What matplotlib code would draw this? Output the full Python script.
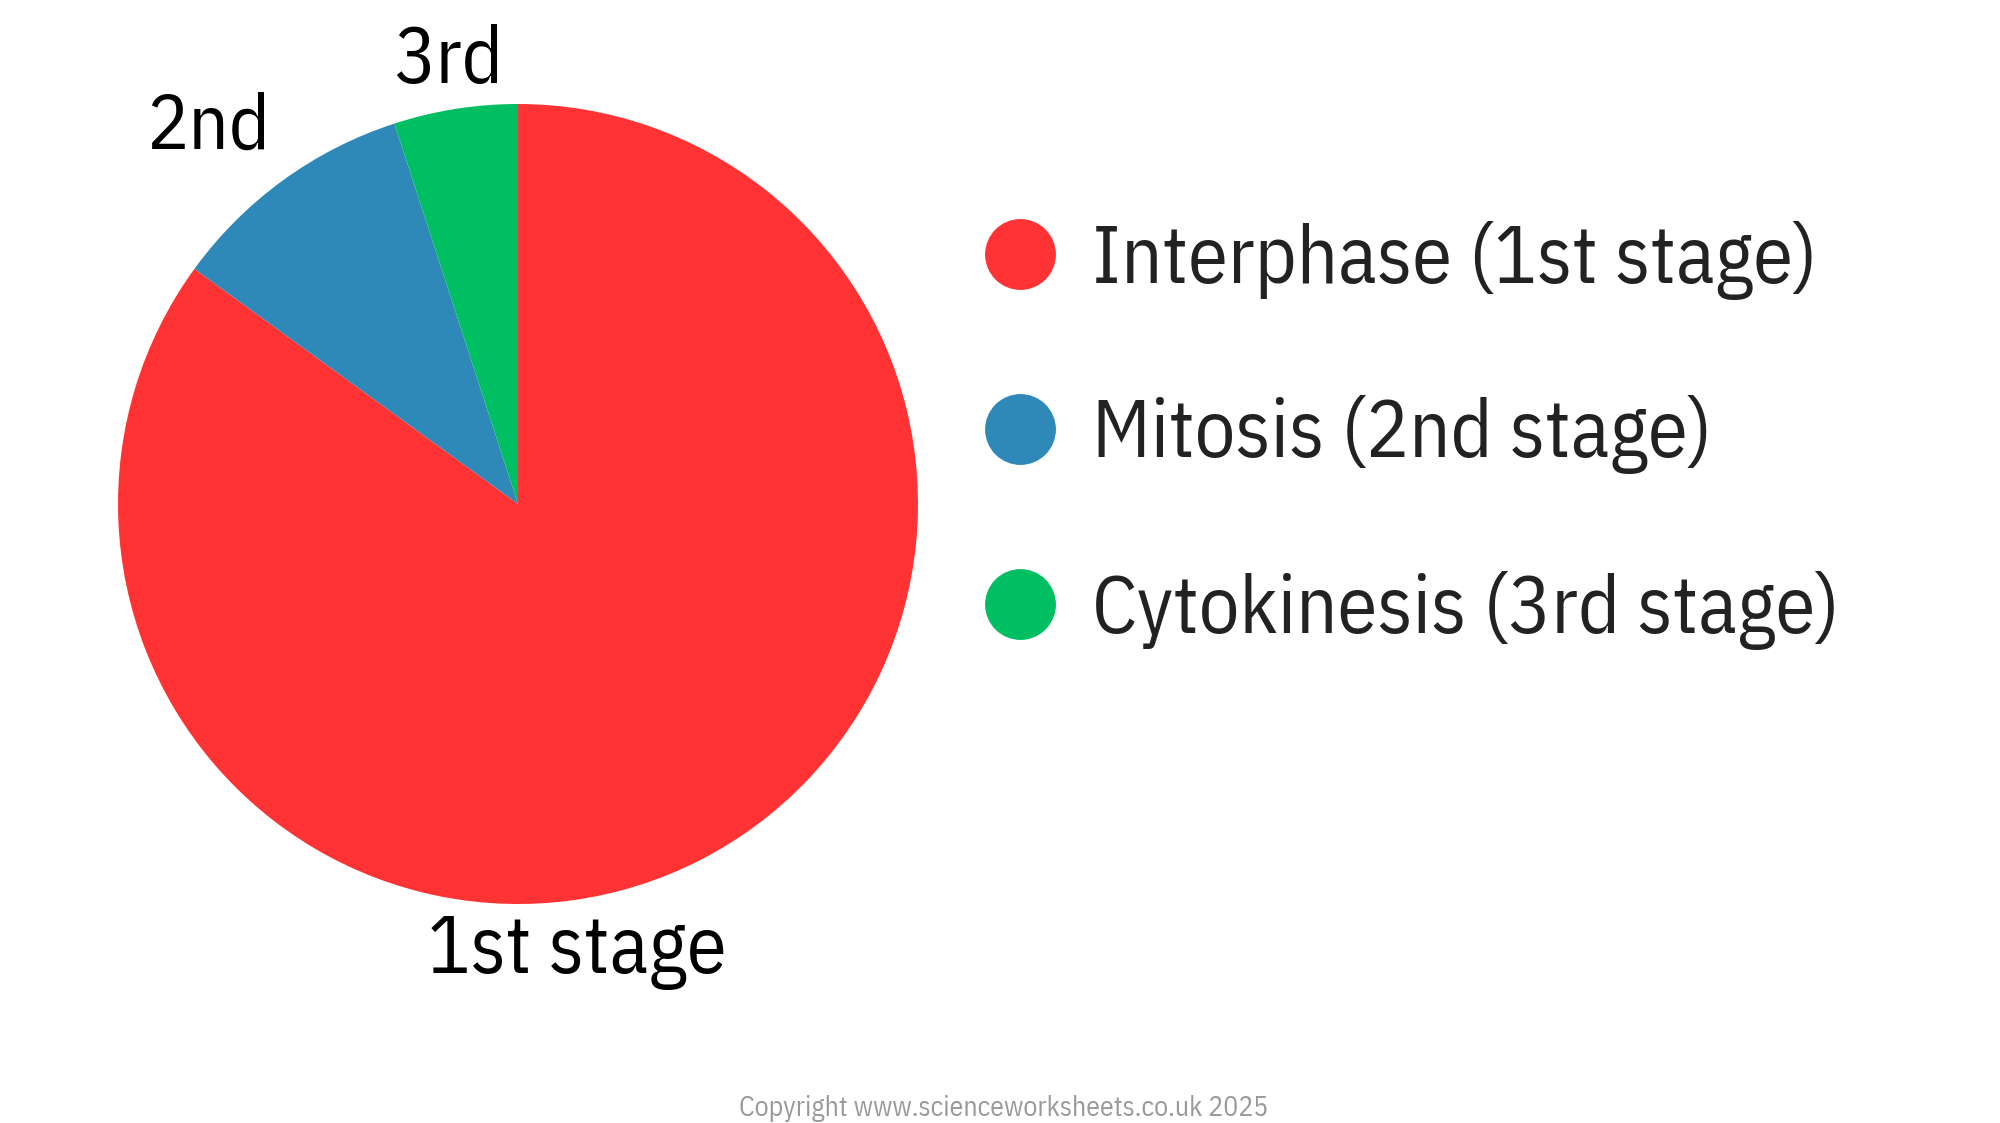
import matplotlib
matplotlib.use("Agg")
import matplotlib.pyplot as plt
from matplotlib.lines import Line2D
from matplotlib import font_manager
from matplotlib.font_manager import FontProperties

# ---- data ----
stages = ["Interphase (1st stage)", "Mitosis (2nd stage)", "Cytokinesis (3rd stage)"]
shares = [85, 10, 5]
short_labels = ["1st stage", "2nd", "3rd"]
colors = ["#FF3333", "#2E89B8", "#00BF63"]
copyright_text = "Copyright www.scienceworksheets.co.uk 2025"

# ---- font choice: prefer a condensed face ----
fl = font_manager.fontManager.ttflist
names = {f.name for f in fl}
font_kw = None
for cand in ["IBM Plex Sans Condensed", "Roboto Condensed", "Liberation Sans Narrow",
             "Noto Sans Condensed", "Open Sans Condensed", "Arial Narrow"]:
    if cand in names:
        font_kw = dict(family=[cand, "DejaVu Sans"])
        break
if font_kw is None:
    for f in fl:
        st = str(f.stretch).lower()
        if f.name in ("Noto Sans", "DejaVu Sans", "Open Sans", "Roboto") and \
                ("condensed" in st or st in ("75", "62", "87", "semi-condensed")) and f.weight in (400, "normal", "regular"):
            font_kw = dict(fname=f.fname)
            break
if font_kw is None:
    font_kw = dict(family=["Lato", "DejaVu Sans"])

copy_kw = None
for cand in ["Liberation Sans Narrow", "Arial Narrow"]:
    if cand in names:
        copy_kw = dict(family=[cand, "DejaVu Sans"])
        break
if copy_kw is None:
    copy_kw = font_kw


def fp(size, kw=None):
    return FontProperties(size=size, **(kw or font_kw))


W, H = 2000, 1123
fig = plt.figure(figsize=(W / 100, H / 100), dpi=100)
cx, cy, r = 518, 504, 400
ax = fig.add_axes([(cx - r) / W, 1 - (cy + r) / H, 2 * r / W, 2 * r / H])
wedges, _ = ax.pie(shares, colors=colors, startangle=90, counterclock=False,
                   radius=1.0, wedgeprops=dict(linewidth=0))
ax.set_xlim(-1, 1)
ax.set_ylim(-1, 1)
ax.set_aspect("equal")
ax.axis("off")

fig.canvas.draw()
renderer = fig.canvas.get_renderer()


def fit(t, target_w, max_cap_px):
    fs = t.get_fontsize()
    for _ in range(3):
        w = t.get_window_extent(renderer).width
        fs = fs * target_w / w
        fs = min(fs, max_cap_px / 0.72 * 72 / 100)
        t.set_fontsize(fs)
    return fs


# label positions (axes data units)
label_pos = [(0.148, -1.12), (-0.775, 0.94), (-0.175, 1.105)]
label_w = [304, 124, 110]
for txt, (x, y), tw in zip(short_labels, label_pos, label_w):
    t = ax.text(x, y, txt, ha="center", va="center", fontproperties=fp(50),
                color="black", clip_on=False)
    fit(t, tw, 58)

# legend
handles = [Line2D([0], [0], marker="o", linestyle="none", markersize=50,
                  markerfacecolor=c, markeredgecolor=c) for c in colors]
probe = fig.text(0, 0, stages[2], fontproperties=fp(50))
lfs = fit(probe, 747, 58)
probe.remove()

ls = 1.0
leg = None
for _ in range(4):
    if leg is not None:
        leg.remove()
    leg = fig.legend(handles, stages, loc="upper left",
                     bbox_to_anchor=(985 / W, 1 - 185 / H), frameon=False,
                     prop=fp(lfs), labelspacing=ls,
                     handletextpad=0.4, handlelength=1.0, borderpad=0)
    for t in leg.get_texts():
        t.set_color("#222222")
    fig.canvas.draw()
    ex = [t.get_window_extent(renderer) for t in leg.get_texts()]
    pitch = ((ex[0].y0 + ex[0].y1) - (ex[2].y0 + ex[2].y1)) / 4.0
    ls += (175 - pitch) / (lfs * 100 / 72)

# shift legend so first text centre sits at (1092, 260) in pixel coords (from top)
fig.canvas.draw()
ex0 = leg.get_texts()[0].get_window_extent(renderer)
dx = 1092 - ex0.x0
dy = (H - 260) - (ex0.y0 + ex0.y1) / 2
leg.set_bbox_to_anchor(((985 + dx) / W, 1 - 185 / H + dy / H), transform=fig.transFigure)

ct = fig.text(1004 / W, 1 - 1108 / H, copyright_text, ha="center", va="center",
              color="#999999", fontproperties=fp(19, copy_kw))
fit(ct, 547, 20)

fig.savefig("out.png", dpi=100, facecolor="white")
